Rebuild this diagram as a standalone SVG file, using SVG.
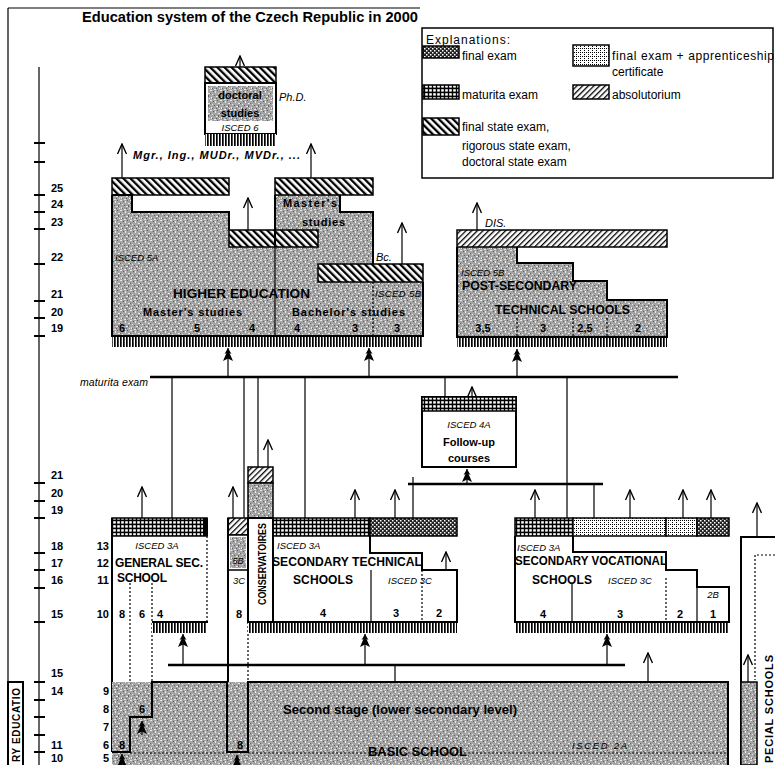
<svg xmlns="http://www.w3.org/2000/svg" width="775" height="765" viewBox="0 0 775 765">
<defs>
<style>
text{font-family:"Liberation Sans",Arial,sans-serif;fill:#000}
.ax{font-size:11px;font-weight:bold}
.n{font-size:11px;font-weight:bold}
.i{font-size:9.5px;font-style:italic}
.b{font-size:12px;font-weight:bold}
.lg{font-size:12px}
.ol{fill:none;stroke:#000;stroke-width:2}
.bar{stroke:#000;stroke-width:1.5}
.thin{fill:none;stroke:#000;stroke-width:1.2}
.dash{fill:none;stroke:#000;stroke-width:1.2;stroke-dasharray:2 2}
.con{fill:none;stroke:#000;stroke-width:1.2}
.hl{fill:none;stroke:#000;stroke-width:2.5}
.arr{fill:none;stroke:#000;stroke-width:1.2;marker-end:url(#open)}
.farr{fill:none;stroke:#000;stroke-width:1.2;marker-end:url(#tree)}
.mid{text-anchor:middle}
.end{text-anchor:end}
</style>
<pattern id="gr" width="10" height="10" patternUnits="userSpaceOnUse">
<rect width="10" height="10" fill="#a4a4a4"/>
<path d="M0,0h2v1h-2zM5,1h1v2h-1zM8,3h2v1h-2zM2,4h1v1h-1zM6,6h2v1h-2zM1,7h1v2h-1zM4,9h2v1h-2zM9,8h1v1h-1z" fill="#e8e8e8"/>
<path d="M3,1h1v1h-1zM7,0h1v1h-1zM0,3h1v1h-1zM4,5h1v1h-1zM8,5h1v2h-1zM2,8h1v1h-1zM6,8h1v1h-1z" fill="#606060"/>
</pattern>
<pattern id="fs" width="5" height="5" patternUnits="userSpaceOnUse" patternTransform="rotate(-45)">
<rect width="5" height="5" fill="#fff"/><rect width="2.3" height="5" fill="#000"/>
</pattern>
<pattern id="abs" width="4" height="4" patternUnits="userSpaceOnUse" patternTransform="rotate(45)">
<rect width="4" height="4" fill="#fff"/><rect width="1.3" height="4" fill="#000"/>
</pattern>
<pattern id="fe" width="4" height="4" patternUnits="userSpaceOnUse">
<rect width="4" height="4" fill="#222"/><rect x="0" y="0" width="1.5" height="1.5" fill="#fff"/><rect x="2" y="2" width="1.5" height="1.5" fill="#fff"/>
</pattern>
<pattern id="mat" width="4" height="4" patternUnits="userSpaceOnUse">
<rect width="4" height="4" fill="#000"/><rect x="1.2" y="1.2" width="2.6" height="2.4" fill="#fff"/>
</pattern>
<pattern id="app" width="4" height="4" patternUnits="userSpaceOnUse">
<rect width="4" height="4" fill="#fff"/><rect x="0" y="0" width="1" height="1" fill="#000"/><rect x="2" y="0" width="1" height="1" fill="#000"/><rect x="0" y="2" width="1" height="1" fill="#000"/>
</pattern>
<pattern id="comb" width="3" height="12" patternUnits="userSpaceOnUse">
<rect width="3" height="12" fill="#fff"/><rect width="1.7" height="12" fill="#000"/>
</pattern>
<marker id="open" viewBox="0 0 12 10" refX="11" refY="5" markerWidth="12" markerHeight="10" markerUnits="userSpaceOnUse" orient="auto">
<path d="M1,0.5 L11,5 L1,9.5" fill="none" stroke="#000" stroke-width="1.4"/>
</marker>
<marker id="tree" viewBox="0 0 13 11" refX="13" refY="5.5" markerWidth="13" markerHeight="11" markerUnits="userSpaceOnUse" orient="auto">
<path d="M13,5.5 L7,2 L8,4 L0,0.5 L2.5,5.5 L0,10.5 L8,7 L7,9 Z" fill="#000"/>
</marker>
</defs>

<rect width="775" height="765" fill="#fff"/>

<g id="frame">
<path d="M8,8 V765 M8,8 H420" class="thin" stroke-width="1.5"/>
<text x="82" y="22" font-size="14" font-weight="bold" textLength="336" lengthAdjust="spacingAndGlyphs">Education system of the Czech Republic in 2000</text>
</g>

<g id="legend">
<rect x="422" y="28" width="351" height="150" fill="#fff" stroke="#000" stroke-width="1.5"/>
<text class="lg" x="426" y="44" textLength="84">Explanations:</text>
<rect x="423" y="46" width="36" height="12" fill="url(#fe)" class="bar"/>
<text class="lg" x="462" y="60">final exam</text>
<rect x="573" y="45" width="36" height="21" fill="url(#app)" class="bar"/>
<text class="lg" x="612" y="60" textLength="162">final exam + apprenticeship</text>
<text class="lg" x="612" y="76">certificate</text>
<rect x="423" y="85" width="36" height="14" fill="url(#mat)" class="bar"/>
<text class="lg" x="462" y="99">maturita exam</text>
<rect x="573" y="85" width="36" height="14" fill="url(#abs)" class="bar"/>
<text class="lg" x="612" y="99">absolutorium</text>
<rect x="423" y="118" width="36" height="17" fill="url(#fs)" class="bar"/>
<text class="lg" x="462" y="131">final state exam,</text>
<text class="lg" x="462" y="150">rigorous state exam,</text>
<text class="lg" x="462" y="166">doctoral state exam</text>
</g>

<g id="axis">
<path d="M39,67 V765" class="thin" stroke-width="1.5"/>
<path d="M34,143 H45 M34,162 H45 M34,195 H45 M34,212 H45 M34,229 H45 M34,264 H45 M34,301 H45 M34,318 H45 M34,336 H45 M34,483 H45 M34,501 H45 M34,518 H45 M34,553 H45 M34,570 H45 M34,588 H45 M34,622 H45 M34,682 H45 M34,700 H45 M34,717 H45 M34,735 H45 M34,752 H45" stroke="#000" stroke-width="2"/>
<text class="ax" x="51" y="192">25</text>
<text class="ax" x="51" y="208">24</text>
<text class="ax" x="51" y="226">23</text>
<text class="ax" x="51" y="261">22</text>
<text class="ax" x="51" y="298">21</text>
<text class="ax" x="51" y="316">20</text>
<text class="ax" x="51" y="332">19</text>
<text class="ax" x="51" y="479">21</text>
<text class="ax" x="51" y="497">20</text>
<text class="ax" x="51" y="514">19</text>
<text class="ax" x="51" y="550">18</text>
<text class="ax" x="51" y="567">17</text>
<text class="ax" x="51" y="584">16</text>
<text class="ax" x="51" y="618">15</text>
<text class="ax" x="51" y="677">15</text>
<text class="ax" x="51" y="695">14</text>
<text class="ax" x="51" y="749">11</text>
<text class="ax" x="51" y="762">10</text>
</g>

<g id="doctoral">
<rect x="205" y="67" width="71" height="16" fill="url(#fs)" class="bar"/>
<rect x="205" y="83" width="71" height="51" fill="#fff" stroke="#000" stroke-width="2"/>
<rect x="208" y="86" width="65" height="35" fill="url(#gr)"/>
<rect x="205" y="134" width="71" height="12" fill="url(#comb)"/>
<text class="n mid" x="240" y="99">doctoral</text>
<text class="n mid" x="240" y="117">studies</text>
<text class="i mid" x="240" y="131">ISCED 6</text>
<text x="279" y="101" font-size="11" font-style="italic">Ph.D.</text>
<text x="133" y="159" font-size="11" font-style="italic" font-weight="bold" textLength="167">Mgr., Ing., MUDr., MVDr., ...</text>
</g>

<g id="higher-education">
<path d="M112,195 H132 V212 H229 V230 H275 V195 H340 V212 H373 V264 H423 V336 H112 Z" fill="url(#gr)"/>
<rect x="112" y="178" width="117" height="17" fill="url(#fs)" class="bar"/>
<rect x="275" y="178" width="98" height="17" fill="url(#fs)" class="bar"/>
<rect x="229" y="230" width="89" height="17" fill="url(#fs)" class="bar"/>
<rect x="318" y="264" width="105" height="18" fill="url(#fs)" class="bar"/>
<path d="M112,195 V336 H423 V282 M112,195 H132 V212 H229 V230 M275,195 V230 M340,195 V212 H373 V264 M275,230 V247" class="ol"/>
<path d="M275,247 V336" class="thin"/>
<path d="M373,282 V336" class="dash"/>
<rect x="112" y="337" width="311" height="10" fill="url(#comb)"/>
<text class="i" x="115" y="261">ISCED 5A</text>
<text x="376" y="261" font-size="11" font-style="italic">Bc.</text>
<text class="i" x="375" y="297" textLength="46" font-size="9">ISCED 5B</text>
<text x="173" y="298" font-size="13" font-weight="bold" textLength="137" lengthAdjust="spacingAndGlyphs">HIGHER EDUCATION</text>
<text class="n" x="143" y="316" textLength="99">Master's studies</text>
<text class="n" x="292" y="316" textLength="113">Bachelor's studies</text>
<text class="n" x="283" y="207" textLength="54">Master's</text>
<text class="n" x="302" y="226" textLength="43">studies</text>
<text class="n mid" x="122" y="332">6</text>
<text class="n mid" x="197" y="332">5</text>
<text class="n mid" x="252" y="332">4</text>
<text class="n mid" x="297" y="332">4</text>
<text class="n mid" x="355" y="332">3</text>
<text class="n mid" x="397" y="332">3</text>
</g>

<g id="post-secondary">
<path d="M457,247 H517 V263 H573 V281 H607 V300 H667 V337 H457 Z" fill="url(#gr)"/>
<rect x="457" y="230" width="210" height="17" fill="url(#abs)" class="bar"/>
<path d="M457,247 V337 H667 V300 H607 V281 H573 V263 H517 V247" class="ol"/>
<path d="M517,318 V337 M573,318 V337 M607,318 V337" class="dash"/>
<rect x="457" y="338" width="210" height="9" fill="url(#comb)"/>
<text x="485" y="227" font-size="11" font-style="italic">DIS.</text>
<text class="i" x="461" y="276">ISCED 5B</text>
<text class="b" x="462" y="290" textLength="115" lengthAdjust="spacingAndGlyphs">POST-SECONDARY</text>
<text class="b" x="495" y="314" textLength="135" lengthAdjust="spacingAndGlyphs">TECHNICAL SCHOOLS</text>
<text class="n mid" x="483" y="332">3,5</text>
<text class="n mid" x="543" y="332">3</text>
<text class="n mid" x="585" y="332">2,5</text>
<text class="n mid" x="638" y="332">2</text>
</g>

<g id="follow-up">
<rect x="422" y="397" width="94" height="70" fill="#fff" stroke="#000" stroke-width="2"/>
<rect x="422" y="397" width="94" height="14" fill="url(#mat)" class="bar"/>
<text class="i mid" x="469" y="428">ISCED 4A</text>
<text class="n mid" x="469" y="446">Follow-up</text>
<text class="n mid" x="469" y="462">courses</text>
<text x="80" y="386" font-size="10.5" font-style="italic" textLength="68">maturita exam</text>
</g>

<g id="general-secondary">
<rect x="112" y="518" width="95" height="18" fill="url(#mat)" class="bar"/>
<rect x="203" y="518" width="5" height="18" fill="#000"/>
<path d="M112,518 V752" class="ol"/>
<path d="M207,536 V622" class="dash" stroke-width="1.6"/>
<path d="M152,622 H208" class="ol"/>
<path d="M130,583 V717 M152,583 V682" class="dash"/>
<rect x="152" y="623" width="55" height="10" fill="url(#comb)"/>
<text class="i mid" x="157" y="549">ISCED 3A</text>
<text class="b" x="115" y="567" textLength="88">GENERAL SEC.</text>
<text class="b" x="117" y="582" textLength="50">SCHOOL</text>
<text class="n end" x="109" y="550">13</text>
<text class="n end" x="109" y="567">12</text>
<text class="n end" x="109" y="584">11</text>
<text class="n end" x="109" y="618">10</text>
<text class="n mid" x="122" y="618">8</text>
<text class="n mid" x="142" y="618">6</text>
<text class="n" x="157" y="618">4</text>
</g>

<g id="conservatoires">
<rect x="228" y="518" width="20" height="17" fill="url(#abs)" class="bar"/>
<rect x="228" y="535" width="20" height="35" fill="#fff" stroke="#000" stroke-width="1.5"/>
<rect x="230" y="537" width="16" height="31" fill="url(#gr)"/>
<text x="238" y="564" font-size="9" font-style="italic" class="mid">5B</text>
<text x="239" y="584" font-size="9.5" font-style="italic" class="mid">3C</text>
<text class="n mid" x="239" y="618">8</text>
<path d="M228,518 V752" class="ol"/>
<path d="M248,570 V682" class="dash"/>
<rect x="248" y="467" width="25" height="16" fill="url(#abs)" class="bar"/>
<rect x="248" y="483" width="25" height="35" fill="url(#gr)" class="bar"/>
<rect x="248" y="518" width="25" height="104" fill="#fff" stroke="#000" stroke-width="2"/>
<text transform="translate(266,605) rotate(-90)" font-size="10.5" font-weight="bold" textLength="82" lengthAdjust="spacingAndGlyphs">CONSERVATOIRES</text>
</g>

<g id="secondary-technical">
<rect x="273" y="518" width="97" height="18" fill="url(#mat)" class="bar"/>
<rect x="370" y="518" width="87" height="18" fill="url(#fe)" class="bar"/>
<path d="M273,518 V622 H457 V570 H422 V553 H370 V536" class="ol"/>
<path d="M371,570 V622" class="thin"/>
<path d="M422,570 V622" class="dash"/>
<rect x="248" y="623" width="209" height="10" fill="url(#comb)"/>
<text class="i" x="277" y="549">ISCED 3A</text>
<text class="b" x="272" y="566" textLength="150" lengthAdjust="spacingAndGlyphs">SECONDARY TECHNICAL</text>
<text class="b" x="293" y="584" textLength="60">SCHOOLS</text>
<text class="i" x="388" y="584">ISCED 3C</text>
<text class="n mid" x="323" y="617">4</text>
<text class="n mid" x="396" y="617">3</text>
<text class="n mid" x="439" y="617">2</text>
</g>

<g id="secondary-vocational">
<rect x="515" y="518" width="58" height="18" fill="url(#mat)" class="bar"/>
<rect x="573" y="518" width="93" height="18" fill="url(#app)" class="bar"/>
<rect x="666" y="518" width="31" height="18" fill="url(#app)" class="bar"/>
<rect x="697" y="518" width="32" height="18" fill="url(#fe)" class="bar"/>
<path d="M515,536 V622 H729 V587 H697 V570 H666 V552 H573 V536" class="ol"/>
<path d="M572,583 V622 M697,587 V622" class="thin"/>
<path d="M666,578 V622" class="dash"/>
<rect x="515" y="623" width="214" height="10" fill="url(#comb)"/>
<text class="i" x="517" y="551">ISCED 3A</text>
<text class="b" x="515" y="565" textLength="152" lengthAdjust="spacingAndGlyphs">SECONDARY VOCATIONAL</text>
<text class="b" x="532" y="584" textLength="60">SCHOOLS</text>
<text class="i" x="608" y="584">ISCED 3C</text>
<text class="i mid" x="713" y="598">2B</text>
<text class="n mid" x="543" y="618">4</text>
<text class="n mid" x="620" y="618">3</text>
<text class="n mid" x="680" y="618">2</text>
<text class="n mid" x="713" y="618">1</text>
</g>

<g id="special-schools">
<path d="M775,537 H741 V765" class="ol"/>
<path d="M775,555 H755 V680" class="dash"/>
<rect x="741" y="682" width="16" height="83" fill="url(#gr)" stroke="#000" stroke-width="1.5"/>
<text transform="translate(773,763) rotate(-90)" font-size="11" font-weight="bold" textLength="108">PECIAL SCHOOLS</text>
</g>

<g id="basic-school">
<rect x="112" y="682" width="616" height="83" fill="url(#gr)"/>
<path d="M112,752 H130 V717 H152 V682 H227 V752 H248 V682 H728 V765" class="ol"/>
<path d="M130,753 H227 M248,753 H728" class="dash"/>
<text class="b" x="283" y="714" textLength="234" lengthAdjust="spacingAndGlyphs" font-size="11.5">Second stage (lower secondary level)</text>
<text class="b" x="368" y="756" textLength="99" lengthAdjust="spacingAndGlyphs">BASIC SCHOOL</text>
<text class="i" x="572" y="749" font-size="10" textLength="55">ISCED 2A</text>
<text class="n end" x="109" y="695">9</text>
<text class="n end" x="109" y="713">8</text>
<text class="n end" x="109" y="731">7</text>
<text class="n end" x="109" y="749">6</text>
<text class="n end" x="109" y="762">5</text>
<text class="n mid" x="142" y="713">6</text>
<text class="n mid" x="122" y="749">8</text>
<text class="n mid" x="240" y="749">8</text>
</g>

<g id="pre-primary">
<rect x="8" y="682" width="15" height="85" fill="#fff" stroke="#000" stroke-width="2"/>
<text transform="translate(20,762) rotate(-90)" font-size="10" font-weight="bold" textLength="74">RY EDUCATIO</text>
</g>

<g id="connectors">
<path d="M150,377 H678 M408,484 H603 M168,665 H625" class="hl"/>
<path d="M172,377 V518 M244,377 V518 M258,377 V467 M305,377 V518 M445,377 V397 M567,377 V518 M413,477 V518 M594,484 V518 M395,665 V682" class="con"/>
<path d="M240,67 V56" class="arr"/>
<path d="M122,178 V144" class="arr"/>
<path d="M311,178 V144" class="arr"/>
<path d="M248,230 V198" class="arr"/>
<path d="M402,264 V223" class="arr"/>
<path d="M477,230 V203" class="arr"/>
<path d="M472,397 V387" class="arr"/>
<path d="M142,518 V487" class="arr"/>
<path d="M233,518 V487" class="arr"/>
<path d="M268,467 V440" class="arr"/>
<path d="M355,518 V490" class="arr"/>
<path d="M395,518 V490" class="arr"/>
<path d="M446,570 V552" class="arr"/>
<path d="M535,518 V490" class="arr"/>
<path d="M630,518 V490" class="arr"/>
<path d="M683,518 V490" class="arr"/>
<path d="M711,518 V490" class="arr"/>
<path d="M757,537 V503" class="arr"/>
<path d="M648,682 V653" class="arr"/>
<path d="M748,682 V655" class="arr"/>
<path d="M228,377 V348" class="farr"/>
<path d="M369,377 V348" class="farr"/>
<path d="M517,377 V349" class="farr"/>
<path d="M467,484 V469" class="farr"/>
<path d="M183,665 V634" class="farr"/>
<path d="M365,665 V634" class="farr"/>
<path d="M607,665 V634" class="farr"/>
<path d="M142,735 V721" class="farr"/>
<path d="M122,765 V754" class="farr"/>
<path d="M237,765 V755" class="farr"/>
</g>
</svg>
